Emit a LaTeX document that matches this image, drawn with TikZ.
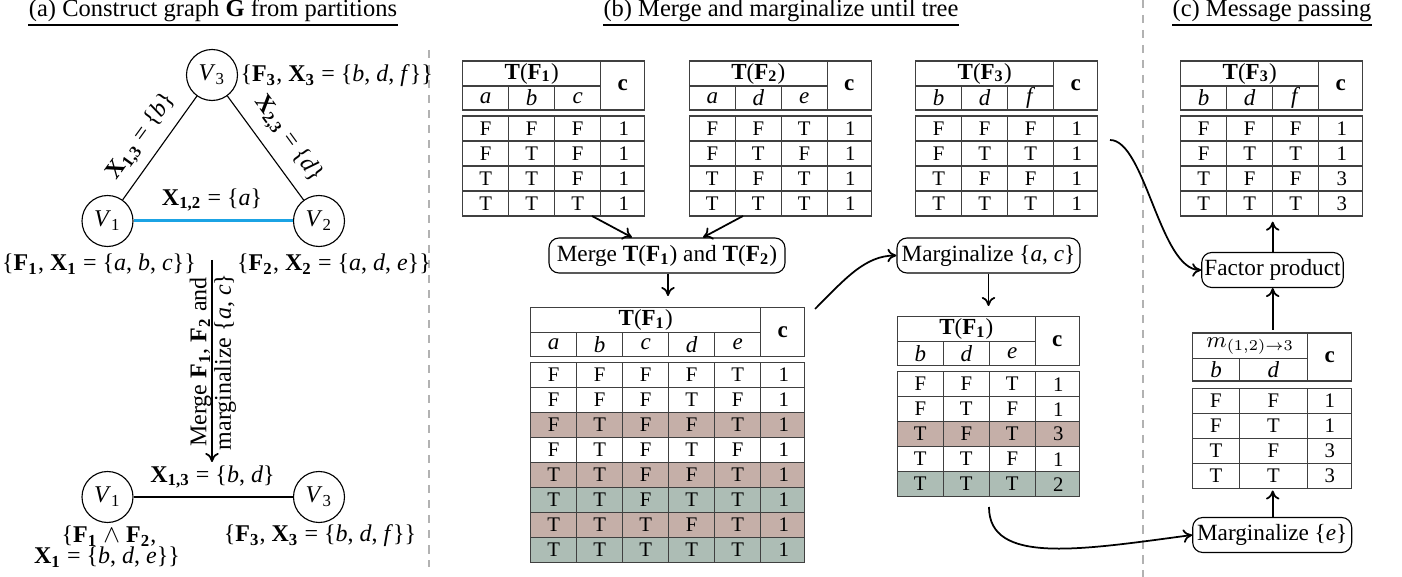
\documentclass[tikz,border=0pt]{standalone}
\usepackage{fontspec}
\setmainfont{Liberation Serif}
\usetikzlibrary{calc,arrows.meta}
\definecolor{edgeblue}{RGB}{27,163,228}
\definecolor{pinkc}{RGB}{197,175,168}
\definecolor{greenc}{RGB}{173,189,181}
\newcommand\bsb[2]{\textbf{#1}\textsubscript{\textbf{#2}}}
\newcommand\mytab[7]{%
 \begin{scope}
 \pgfmathsetmacro\tx{#2}
 \pgfmathsetmacro\ty{#3}
 \pgfmathsetmacro\tw{46*#4}
 \pgfmathsetmacro\tr{46*#4+44}
 \pgfmathsetmacro\by{#3+55}
 \foreach \rw/\fc [count=\r] in {#7} {
   \fill[\fc] (\tx,{\by+25*(\r-1)}) rectangle ({\tx+\tr},{\by+25*\r});
   \draw[tabline] (\tx,{\by+25*(\r-1)}) rectangle ({\tx+\tr},{\by+25*\r});
   \foreach \k in {1,...,#4} \draw[tabline] ({\tx+46*\k},{\by+25*(\r-1)}) -- ({\tx+46*\k},{\by+25*\r});
   \foreach \v [count=\k] in \rw \node[cell] (#1-\r-\k) at ({\tx+46*\k-23},{\by+25*\r-12.5}) {\v};
 }
 \draw[tabline] (\tx,\ty) rectangle ({\tx+\tr},{\ty+49});
 \draw[tabline] (\tx,{\ty+25}) -- ({\tx+\tw},{\ty+25});
 \draw[tabline] ({\tx+\tw},\ty) -- ({\tx+\tw},{\ty+49});
 \foreach \i in {1,...,#4} \draw[tabline] ({\tx+46*\i},{\ty+25}) -- ({\tx+46*\i},{\ty+49});
 \node[hd] (#1-t) at ({\tx+\tw/2},{\ty+12.5}) {#5};
 \node[hd] (#1-c) at ({\tx+\tw+22},{\ty+24.5}) {\textbf{c}};
 \foreach \h [count=\i] in {#6} \node[hd] (#1-h\i) at ({\tx+46*\i-23},{\ty+37}) {\textit{\h}};
 \end{scope}
}
\begin{document}
\begin{tikzpicture}[x=0.4pt,y=-0.4pt,
 lab/.style={font=\fontsize{9.6}{10.5}\selectfont, inner sep=0pt},
 ttl/.style={font=\fontsize{9.8}{11}\selectfont, inner sep=0pt, anchor=base},
 hd/.style={font=\fontsize{9.2}{10}\selectfont, inner sep=0pt},
 cell/.style={font=\fontsize{8.3}{9}\selectfont, inner sep=0pt},
 tabline/.style={draw=black!75, line width=0.5pt},
 vert/.style={circle, draw, line width=0.45pt, minimum size=20.4pt, inner sep=0pt, font=\fontsize{9.6}{10.5}\selectfont},
 op/.style={draw, rounded corners=4pt, line width=0.45pt, minimum height=14pt, inner sep=1pt, font=\fontsize{9.3}{10.5}\selectfont},
 arr/.style={-{To[length=3.6pt,width=5.4pt]}, line width=0.7pt},
 sepline/.style={draw=black!30, line width=0.8pt, dash pattern=on 3.4pt off 2.6pt},
 uline/.style={line width=0.6pt}]
\useasboundingbox (0,0) rectangle (1402,577);

% titles
\node[ttl] (ta) at (213,16.5) {(a) Construct graph \textbf{G} from partitions};
\node[ttl] (tb) at (781,16.5) {(b) Merge and marginalize until tree};
\node[ttl] (tc) at (1272,16.5) {(c) Message passing};
\foreach \t in {ta,tb,tc}
  \draw[uline] ($(\t.base west)+(0,8.5)$) -- ($(\t.base east)+(0,8.5)$);

% separators
\draw[sepline] (428.7,50) -- (428.7,567);
\draw[sepline] (1143.3,0) -- (1143.3,577);

% (a) graph
\node[vert] (v3) at (212,75) {\textit{V}\textsubscript{3}};
\node[vert] (v1) at (107.5,221) {\textit{V}\textsubscript{1}};
\node[vert] (v2) at (319,221) {\textit{V}\textsubscript{2}};
\draw[line width=0.45pt] (v1) -- (v3);
\draw[line width=0.45pt] (v2) -- (v3);
\draw[edgeblue, line width=1.2pt] (v1) -- (v2);
\node[lab, anchor=west] (l3) at (240,76) {\{\bsb{F}{3}, \bsb{X}{3} = \{\textit{b}, \textit{d}, \textit{f}\}\}};
\node[lab, rotate=54] (l13) at (142,137) {\bsb{X}{1,3} = \{\textit{b}\}};
\node[lab, rotate=-54] (l23) at (288,139) {\bsb{X}{2,3} = \{\textit{d}\}};
\node[lab] (l12) at (212,200) {\bsb{X}{1,2} = \{\textit{a}\}};
\node[lab] (l1) at (99,264) {\{\bsb{F}{1}, \bsb{X}{1} = \{\textit{a}, \textit{b}, \textit{c}\}\}};
\node[lab] (l2) at (334,264) {\{\bsb{F}{2}, \bsb{X}{2} = \{\textit{a}, \textit{d}, \textit{e}\}\}};

\coordinate (mstart) at (212,260);
\coordinate (mend) at (212,462);
\draw[arr] (mstart) -- (mend);
\node[lab, rotate=90, align=center, font=\fontsize{9.6}{9.8}\selectfont] (mlab) at (213,362)
  {Merge \bsb{F}{1}, \bsb{F}{2} and\\ marginalize \{\textit{a}, \textit{c}\}};

\node[vert] (w1) at (107.5,497) {\textit{V}\textsubscript{1}};
\node[vert] (w3) at (319,497) {\textit{V}\textsubscript{3}};
\draw[line width=0.45pt] (w1) -- (w3);
\node[lab] (k13) at (212.5,477) {\bsb{X}{1,3} = \{\textit{b}, \textit{d}\}};
\node[lab] (k1a) at (109,536) {\{\bsb{F}{1} $\wedge$ \bsb{F}{2},};
\node[lab] (k1b) at (107,557.5) {\bsb{X}{1} = \{\textit{b}, \textit{d}, \textit{e}\}\}};
\node[lab] (k3) at (320,536) {\{\bsb{F}{3}, \bsb{X}{3} = \{\textit{b}, \textit{d}, \textit{f}\}\}};

% (b) tables
\mytab{ta1}{462.7}{61}{3}{\textbf{T}(\bsb{F}{1})}{a,b,c}{{F,F,F,1}/white,{F,T,F,1}/white,{T,T,F,1}/white,{T,T,T,1}/white}
\mytab{ta2}{689.3}{61}{3}{\textbf{T}(\bsb{F}{2})}{a,d,e}{{F,F,T,1}/white,{F,T,F,1}/white,{T,F,T,1}/white,{T,T,T,1}/white}
\mytab{ta3}{915.7}{61}{3}{\textbf{T}(\bsb{F}{3})}{b,d,f}{{F,F,F,1}/white,{F,T,T,1}/white,{T,F,F,1}/white,{T,T,T,1}/white}
\mytab{tm}{530.7}{307.3}{5}{\textbf{T}(\bsb{F}{1})}{a,b,c,d,e}{{F,F,F,F,T,1}/white,{F,F,F,T,F,1}/white,{F,T,F,F,T,1}/pinkc,{F,T,F,T,F,1}/white,{T,T,F,F,T,1}/pinkc,{T,T,F,T,T,1}/greenc,{T,T,T,F,T,1}/pinkc,{T,T,T,T,T,1}/greenc}
\mytab{tg}{897.3}{316.7}{3}{\textbf{T}(\bsb{F}{1})}{b,d,e}{{F,F,T,1}/white,{F,T,F,1}/white,{T,F,T,3}/pinkc,{T,T,F,1}/white,{T,T,T,2}/greenc}

\node[op, minimum width=94.4pt] (merge) at (667,255.5) {Merge \textbf{T}(\bsb{F}{1}) and \textbf{T}(\bsb{F}{2})};
\node[op, minimum width=73.2pt] (margac) at (988.5,255.5) {Marginalize \{\textit{a}, \textit{c}\}};

\coordinate (o1) at (592,216);
\coordinate (o2) at (743,216);
\draw[arr] (o1) -- ($(merge.north)+(-35,0)$);
\draw[arr] (o2) -- ($(merge.north)+(36,0)$);
\coordinate (mgtop) at (668,296);
\draw[arr] (merge.south -| mgtop) -- (mgtop);
\coordinate (c1) at (815,309);
\draw[arr] (c1) .. controls (845,279) and (865,255.5) .. (margac.west);
\coordinate (gtop) at (988.5,306);
\draw[arr] (margac.south) -- (gtop);

% (c)
\mytab{tc3}{1180.7}{61}{3}{\textbf{T}(\bsb{F}{3})}{b,d,f}{{F,F,F,1}/white,{F,T,T,1}/white,{T,F,F,3}/white,{T,T,T,3}/white}

% message table
\draw[tabline] (1192.7,333) rectangle (1351.7,381);
\draw[tabline] (1192.7,358.3) -- (1307.7,358.3);
\draw[tabline] (1307.7,333) -- (1307.7,381);
\draw[tabline] (1239.3,358.3) -- (1239.3,381);
\node[hd] (msg-t) at (1250.2,346) {$m_{(1,2)\rightarrow 3}$};
\node[hd] (msg-h1) at (1216,370) {\textit{b}};
\node[hd] (msg-h2) at (1273.5,370) {\textit{d}};
\node[hd] (msg-c) at (1329.7,357) {\textbf{c}};
\foreach \a/\b/\n [count=\r] in {F/F/1,F/T/1,T/F/3,T/T/3} {
  \draw[tabline] (1192.7,{363.3+25*\r}) rectangle (1351.7,{388.3+25*\r});
  \draw[tabline] (1239.3,{363.3+25*\r}) -- (1239.3,{388.3+25*\r});
  \draw[tabline] (1307.7,{363.3+25*\r}) -- (1307.7,{388.3+25*\r});
  \node[cell] (msg-\r-1) at (1216,{375.8+25*\r}) {\a};
  \node[cell] (msg-\r-2) at (1273.5,{375.8+25*\r}) {\b};
  \node[cell] (msg-\r-3) at (1329.7,{375.8+25*\r}) {\n};
}

\node[op, minimum width=56.6pt] (fp) at (1272.5,270) {Factor product};
\node[op, minimum width=63.6pt] (marge) at (1272.2,535) {Marginalize \{\textit{e}\}};

\coordinate (c3top) at (1272.7,221.7);
\coordinate (msgtop) at (1272.7,330);
\coordinate (msgbot) at (1272.7,490.5);
\draw[arr] (fp.north -| c3top) -- (c3top);
\draw[arr] (msgtop) -- (fp.south -| msgtop);
\draw[arr] (marge.north -| msgbot) -- (msgbot);

\coordinate (f3out) at (1110,140);
\draw[arr] (f3out) .. controls (1145,140) and (1160,270) .. (fp.west);
\coordinate (gbot) at (989,507);
\draw[arr] (gbot) .. controls (989,565) and (1080,550) .. (marge.west);
\end{tikzpicture}
\end{document}
